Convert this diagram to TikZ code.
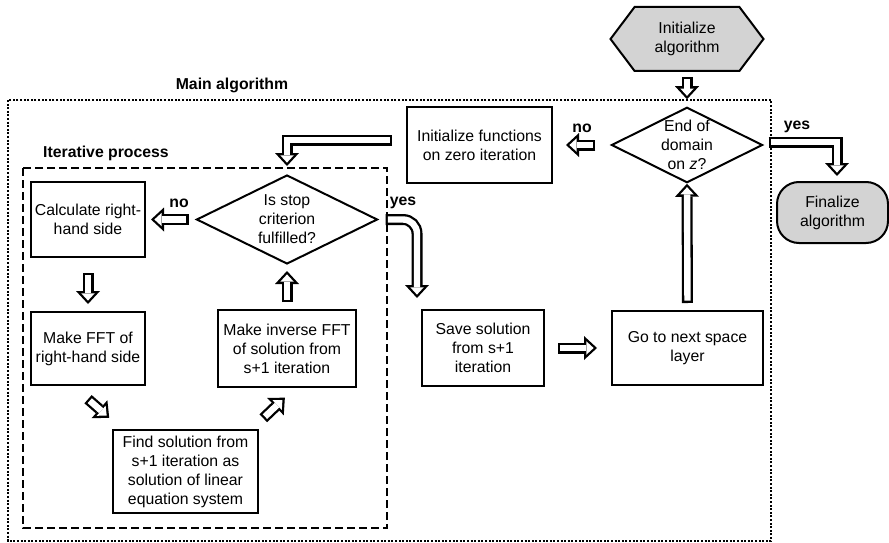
\documentclass[tikz,border=0pt]{standalone}
\usepackage{fontspec}
\setmainfont{Liberation Sans}
\usepackage{xcolor}
\usetikzlibrary{positioning, arrows.meta, shapes.geometric, shapes.symbols}

\definecolor{termgray}{RGB}{211,211,211}

% hollow block arrow: black body, white core
\newcommand{\hollowarrow}[4][]{%
  \draw[hout, #1, shorten <=#2, shorten >=#3] #4;
  \draw[hin, #1, shorten <=#2+2.3pt, shorten >=#3+3.39pt] #4;
}

\begin{document}
\begin{tikzpicture}[
    x=1pt, y=-1pt,
    every node/.style={font=\fontsize{15.8}{19}\selectfont},
    box/.style={
        rectangle,
        draw,
        line width=2pt,
        align=center,
        inner sep=1pt
    },
    decision/.style={
        diamond,
        draw,
        line width=2pt,
        aspect=2,
        align=center,
        inner sep=0pt
    },
    lbl/.style={font=\fontsize{15.8}{19}\selectfont\bfseries},
    hout/.style={
        black,
        line width=11pt,
        -{Triangle[length=13pt, width=24pt, line width=0pt]}
    },
    hin/.style={
        white,
        line width=6.4pt,
        -{Triangle[length=7.31pt, width=13.5pt, line width=0pt]}
    }
]
\useasboundingbox (0,0) rectangle (889,543);

% containers
\draw[line width=2pt, dash pattern=on 2pt off 1.6pt] (8,100) rectangle (771,541);
\draw[line width=2.2pt, dash pattern=on 8pt off 4pt] (23,168) rectangle (387,528);
\node[lbl] (mainlbl) at (232,85) {Main algorithm};
\node[lbl] (iterlbl) at (106,153) {Iterative process};

% outer loop
\node[signal, signal to=west and east, signal pointer angle=106,
      draw, line width=2pt, fill=termgray, minimum width=153pt,
      minimum height=64pt, align=center, inner sep=0pt] (init) at (687,39)
      {Initialize\\algorithm};
\node[decision, minimum width=151pt, minimum height=75pt] (endz) at (687,145)
      {End of\\domain\\on \textit{z}?};
\node[rectangle, rounded corners=22pt, draw, line width=2pt, fill=termgray,
      minimum width=111pt, minimum height=61pt, align=center] (fin) at (832.5,212.5)
      {Finalize\\algorithm};
\node[box, minimum width=145pt, minimum height=76pt] (zero) at (479.5,145)
      {Initialize functions\\on zero iteration};
\node[box, minimum width=122pt, minimum height=76pt] (save) at (483,348)
      {Save solution\\from s+1\\iteration};
\node[box, minimum width=151pt, minimum height=74pt] (go) at (687.5,348)
      {Go to next space\\layer};

% iterative process
\node[decision, minimum width=181pt, minimum height=89pt] (stop) at (287,219.5)
      {Is stop\\criterion\\fulfilled?};
\node[box, minimum width=114pt, minimum height=75pt] (calc) at (88,219.5)
      {Calculate right-\\hand side};
\node[box, minimum width=114pt, minimum height=73pt, below=53pt of calc] (fft)
      {Make FFT of\\right-hand side};
\node[box, minimum width=145pt, minimum height=83pt] (find) at (185.5,471.5)
      {Find solution from\\s+1 iteration as\\solution of linear\\equation system};
\node[box, minimum width=138pt, minimum height=77pt] (inv) at (287,348.5)
      {Make inverse FFT\\of solution from\\s+1 iteration};

% arrows
\hollowarrow{5pt}{7pt}{(init.south) -- (endz.north)}
\hollowarrow{15pt}{13pt}{(endz.west) -- (zero.east)}
\node[lbl] (nolbl1) at (582,128) {no};
\hollowarrow{14pt}{8pt}{([yshift=5pt]zero.west) -| (stop.north)}
\hollowarrow{5pt}{5pt}{([yshift=3pt]endz.east) -| ([xshift=4.5pt]fin.north)}
\node[lbl] (yeslbl1) at (797,127) {yes};

\hollowarrow{7pt}{5pt}{(stop.west) -- (calc.east)}
\node[lbl] (nolbl2) at (179,203) {no};
\hollowarrow{15pt}{7pt}{(calc.south) -- (fft.north)}
\hollowarrow{20pt}{17pt}{([xshift=-15pt]fft.south) -- ([xshift=10pt]find.north west)}
\hollowarrow{15.6pt}{14pt}{([xshift=-7pt]find.north east) -- ([xshift=8pt]inv.south)}
\hollowarrow{7pt}{6pt}{(inv.north) -- (stop.south)}
\hollowarrow[rounded corners=14pt]{7pt}{11pt}{(stop.east) -| ([xshift=-4pt]save.north west)}
\node[lbl] (yeslbl2) at (403,203) {yes};

\hollowarrow{13pt}{14pt}{(save.east) -- (go.west)}
\hollowarrow{7pt}{0pt}{(go.north) -- (endz.south)}

\end{tikzpicture}
\end{document}
